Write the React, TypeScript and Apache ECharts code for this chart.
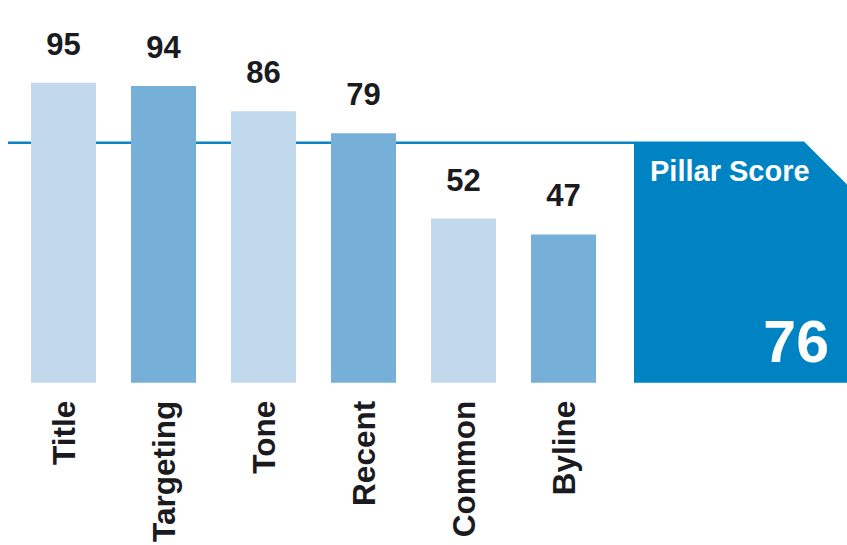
import React, { useEffect, useRef } from "react";
import * as echarts from "echarts";

const categories = ["Title", "Targeting", "Tone", "Recent", "Common", "Byline"];
const scores = [95, 94, 86, 79, 52, 47];
const barColors = ["#c2d8ec", "#76b0d9", "#c2d8ec", "#76b0d9", "#c2d8ec", "#76b0d9"];
const pillarLabel = "Pillar Score";
const pillarScore = 76;

const FONT = "'Liberation Sans', Arial, Helvetica, sans-serif";

export default function App() {
  const ref = useRef<HTMLDivElement>(null);
  useEffect(() => {
    if (!ref.current) return;
    const chart = echarts.init(ref.current, null, { renderer: "svg" });
    chart.setOption({
      animation: false,
      backgroundColor: "#ffffff",
      grid: { left: 13.5, right: 233.5, top: 67, bottom: 160, containLabel: false },
      xAxis: {
        type: "category",
        data: categories,
        axisLine: { show: false },
        axisTick: { show: false },
        axisLabel: {
          rotate: 90,
          margin: 18,
          fontSize: 31.5,
          fontWeight: "bold",
          color: "#1b1b1f",
          fontFamily: FONT,
        },
      },
      yAxis: {
        type: "value",
        min: 0,
        max: 100,
        show: false,
        splitLine: { show: false },
      },
      series: [
        {
          type: "bar",
          barWidth: 65,
          data: scores.map((v, i) => ({ value: v, itemStyle: { color: barColors[i] } })),
          label: {
            show: true,
            position: "top",
            distance: 23,
            fontSize: 31,
            fontWeight: "bold",
            color: "#1b1b1f",
            fontFamily: FONT,
          },
          z: 3,
        },
      ],
    });

    const y = chart.convertToPixel({ yAxisIndex: 0 }, pillarScore) as number;
    const y0 = chart.convertToPixel({ yAxisIndex: 0 }, 0) as number;
    const boxLeft = 634;
    const W = 847;
    const cut = 43;
    chart.setOption({
      graphic: [
        {
          type: "line",
          z: 1,
          shape: { x1: 8, y1: y, x2: boxLeft, y2: y },
          style: { stroke: "#0a84c4", lineWidth: 2.5 },
        },
        {
          type: "polygon",
          z: 1,
          shape: {
            points: [
              [boxLeft, y - 1.25],
              [W - cut, y - 1.25],
              [W, y - 1.25 + cut],
              [W, y0],
              [boxLeft, y0],
            ],
          },
          style: { fill: "#0083c2" },
        },
        {
          type: "text",
          z: 5,
          left: 650,
          top: y + 14,
          style: {
            text: pillarLabel,
            fill: "#ffffff",
            font: `bold 29px ${FONT}`,
          },
        },
        {
          type: "text",
          z: 5,
          right: 18,
          top: y0 - 70,
          style: {
            text: String(pillarScore),
            fill: "#ffffff",
            font: `bold 59px ${FONT}`,
          },
        },
      ],
    });
    return () => chart.dispose();
  }, []);
  return (
    <div
      ref={ref}
      style={{ position: "absolute", left: 0, top: 0, width: 847, height: 545 }}
    />
  );
}
